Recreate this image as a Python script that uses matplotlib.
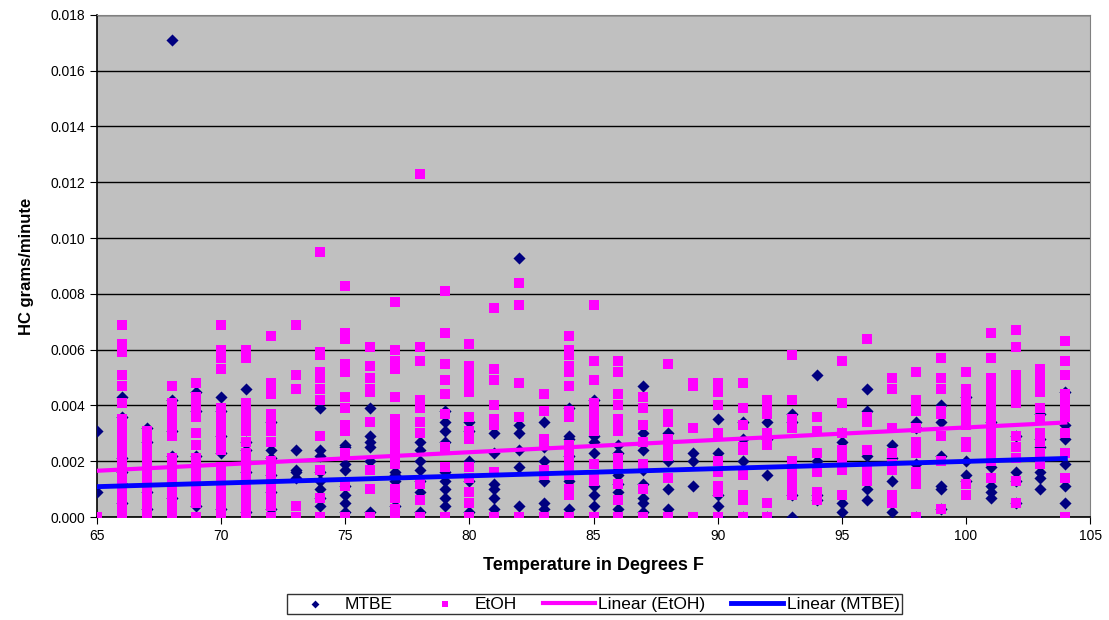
import matplotlib
matplotlib.use("Agg")
import matplotlib.pyplot as plt
from matplotlib.ticker import FormatStrFormatter, MultipleLocator

plt.rcParams["font.family"] = ["Liberation Sans", "DejaVu Sans"]

# Temperatures (deg F), one column of points per temperature
temps = list(range(65, 105))

# HC grams/minute, one list per temperature
mtbe_values = [
    [0.0031, 0.0009],
    [0.0043, 0.0036, 0.0021, 0.0016, 0.0012, 0.0005],
    [0.0032, 0.0027, 0.0018, 0.0009, 0.0003],
    [0.0171, 0.0042, 0.0031, 0.0022, 0.0007],
    [0.0045, 0.0038, 0.0022, 0.0004],
    [0.0043, 0.0038, 0.0029, 0.0023, 0.0003],
    [0.0046, 0.0027, 0.0024, 0.0016, 0.0002],
    [0.0034, 0.0024, 0.0021, 0.0015, 0.0009, 0.0003],
    [0.0024, 0.0017, 0.0016, 0.0014],
    [0.0039, 0.0024, 0.0022, 0.0016, 0.0013, 0.0010, 0.0007, 0.0004],
    [0.0026, 0.0025, 0.0019, 0.0017, 0.0011, 0.0008, 0.0005, 0.0002],
    [0.0039, 0.0029, 0.0027, 0.0025, 0.0020, 0.0002],
    [0.0016, 0.0015, 0.0013, 0.0004],
    [0.0027, 0.0024, 0.0020, 0.0017, 0.0013, 0.0009, 0.0002],
    [0.0038, 0.0034, 0.0031, 0.0027, 0.0016, 0.0013, 0.0010, 0.0007, 0.0004],
    [0.0034, 0.0031, 0.0020, 0.0013, 0.0002],
    [0.0030, 0.0023, 0.0012, 0.0010, 0.0007, 0.0003],
    [0.0093, 0.0033, 0.0030, 0.0024, 0.0018, 0.0004],
    [0.0034, 0.0025, 0.0020, 0.0013, 0.0005, 0.0003],
    [0.0039, 0.0029, 0.0028, 0.0022, 0.0013, 0.0003],
    [0.0042, 0.0029, 0.0027, 0.0023, 0.0011, 0.0008, 0.0004],
    [0.0026, 0.0023, 0.0017, 0.0015, 0.0012, 0.0009, 0.0003],
    [0.0047, 0.0030, 0.0024, 0.0017, 0.0012, 0.0007, 0.0005, 0.0002],
    [0.0030, 0.0020, 0.0010, 0.0003],
    [0.0023, 0.0020, 0.0011],
    [0.0035, 0.0023, 0.0008, 0.0004, 0.0],
    [0.0034, 0.0028, 0.0020, 0.0],
    [0.0034, 0.0028, 0.0015, 0.0],
    [0.0037, 0.0034, 0.0008, 0.0],
    [0.0051, 0.0020, 0.0008, 0.0006],
    [0.0030, 0.0027, 0.0005, 0.0002],
    [0.0046, 0.0038, 0.0022, 0.0010, 0.0006],
    [0.0026, 0.0021, 0.0013, 0.0002],
    [0.0034, 0.0032, 0.0019, 0.0],
    [0.0040, 0.0034, 0.0022, 0.0011, 0.0010, 0.0003],
    [0.0043, 0.0020, 0.0015, 0.0013],
    [0.0034, 0.0018, 0.0011, 0.0009, 0.0007],
    [0.0029, 0.0016, 0.0013, 0.0005],
    [0.0037, 0.0028, 0.0025, 0.0016, 0.0014, 0.0010],
    [0.0045, 0.0033, 0.0028, 0.0019, 0.0011, 0.0005],
]

etoh_values = [
    [0.0],
    [0.0069, 0.0062, 0.0059, 0.0051, 0.0047, 0.0041, 0.0035, 0.0033, 0.0031,
     0.0029, 0.0027, 0.0025, 0.0023, 0.0021, 0.0019, 0.0017, 0.0015, 0.0013,
     0.0011, 0.0009, 0.0007, 0.0005, 0.0003, 0.0001, 0.0],
    [0.0031, 0.0029, 0.0027, 0.0024, 0.0022, 0.0020, 0.0018, 0.0016, 0.0014,
     0.0012, 0.0010, 0.0008, 0.0006, 0.0004, 0.0002, 0.0],
    [0.0047, 0.0041, 0.0039, 0.0037, 0.0035, 0.0033, 0.0031, 0.0029, 0.0021,
     0.0019, 0.0017, 0.0015, 0.0013, 0.0011, 0.0009, 0.0007, 0.0005, 0.0003,
     0.0001, 0.0],
    [0.0048, 0.0043, 0.0040, 0.0038, 0.0036, 0.0030, 0.0026, 0.0021, 0.0019,
     0.0017, 0.0015, 0.0013, 0.0011, 0.0009, 0.0007, 0.0005, 0.0],
    [0.0069, 0.0060, 0.0057, 0.0053, 0.0039, 0.0037, 0.0035, 0.0033, 0.0030,
     0.0028, 0.0026, 0.0024, 0.0018, 0.0016, 0.0014, 0.0012, 0.0010, 0.0008,
     0.0006, 0.0004, 0.0002, 0.0],
    [0.0060, 0.0057, 0.0041, 0.0039, 0.0037, 0.0035, 0.0033, 0.0031, 0.0027,
     0.0023, 0.0021, 0.0019, 0.0017, 0.0015, 0.0013, 0.0011, 0.0009, 0.0007,
     0.0005, 0.0003, 0.0001, 0.0],
    [0.0065, 0.0048, 0.0046, 0.0044, 0.0037, 0.0035, 0.0033, 0.0031, 0.0027,
     0.0020, 0.0018, 0.0016, 0.0014, 0.0012, 0.0010, 0.0008, 0.0006, 0.0004,
     0.0],
    [0.0069, 0.0051, 0.0046, 0.0004, 0.0],
    [0.0095, 0.0059, 0.0058, 0.0052, 0.0050, 0.0046, 0.0042, 0.0029, 0.0017,
     0.0007, 0.0],
    [0.0083, 0.0066, 0.0064, 0.0055, 0.0052, 0.0043, 0.0039, 0.0033, 0.0031,
     0.0023, 0.0011, 0.0],
    [0.0061, 0.0054, 0.0050, 0.0046, 0.0045, 0.0034, 0.0017, 0.0010, 0.0],
    [0.0077, 0.0060, 0.0056, 0.0053, 0.0043, 0.0035, 0.0033, 0.0031, 0.0029,
     0.0027, 0.0025, 0.0023, 0.0021, 0.0019, 0.0010, 0.0007, 0.0003, 0.0],
    [0.0123, 0.0061, 0.0056, 0.0042, 0.0039, 0.0034, 0.0030, 0.0012, 0.0006,
     0.0],
    [0.0081, 0.0066, 0.0055, 0.0049, 0.0044, 0.0037, 0.0025, 0.0018, 0.0],
    [0.0062, 0.0054, 0.0051, 0.0048, 0.0045, 0.0036, 0.0031, 0.0028, 0.0018,
     0.0014, 0.0009, 0.0005, 0.0],
    [0.0075, 0.0053, 0.0049, 0.0040, 0.0035, 0.0033, 0.0016, 0.0],
    [0.0084, 0.0076, 0.0048, 0.0036, 0.0],
    [0.0044, 0.0038, 0.0028, 0.0026, 0.0017, 0.0015, 0.0],
    [0.0065, 0.0060, 0.0058, 0.0054, 0.0052, 0.0047, 0.0038, 0.0036, 0.0026,
     0.0024, 0.0022, 0.0020, 0.0018, 0.0015, 0.0010, 0.0008, 0.0],
    [0.0076, 0.0056, 0.0049, 0.0041, 0.0039, 0.0037, 0.0035, 0.0033, 0.0031,
     0.0019, 0.0015, 0.0013, 0.0],
    [0.0056, 0.0052, 0.0044, 0.0040, 0.0035, 0.0033, 0.0031, 0.0021, 0.0019,
     0.0012, 0.0006, 0.0],
    [0.0043, 0.0039, 0.0033, 0.0027, 0.0019, 0.0010, 0.0],
    [0.0055, 0.0037, 0.0034, 0.0028, 0.0026, 0.0024, 0.0022, 0.0014, 0.0],
    [0.0048, 0.0047, 0.0032, 0.0],
    [0.0048, 0.0045, 0.0040, 0.0030, 0.0020, 0.0016, 0.0011, 0.0009, 0.0],
    [0.0048, 0.0039, 0.0033, 0.0025, 0.0024, 0.0015, 0.0008, 0.0006, 0.0],
    [0.0042, 0.0040, 0.0037, 0.0030, 0.0028, 0.0026, 0.0005, 0.0],
    [0.0058, 0.0042, 0.0035, 0.0032, 0.0020, 0.0018, 0.0016, 0.0014, 0.0012,
     0.0010, 0.0008],
    [0.0036, 0.0031, 0.0023, 0.0016, 0.0009, 0.0006],
    [0.0056, 0.0041, 0.0030, 0.0024, 0.0021, 0.0017, 0.0008],
    [0.0064, 0.0036, 0.0034, 0.0024, 0.0018, 0.0015, 0.0013],
    [0.0050, 0.0046, 0.0032, 0.0023, 0.0019, 0.0017, 0.0008, 0.0005],
    [0.0052, 0.0042, 0.0040, 0.0038, 0.0032, 0.0027, 0.0025, 0.0023, 0.0016,
     0.0014, 0.0012, 0.0],
    [0.0057, 0.0050, 0.0046, 0.0038, 0.0037, 0.0029, 0.0020, 0.0003],
    [0.0052, 0.0046, 0.0043, 0.0041, 0.0039, 0.0037, 0.0035, 0.0033, 0.0027,
     0.0025, 0.0012, 0.0008],
    [0.0066, 0.0057, 0.0050, 0.0047, 0.0044, 0.0042, 0.0040, 0.0038, 0.0036,
     0.0034, 0.0032, 0.0030, 0.0028, 0.0026, 0.0024, 0.0022, 0.0020, 0.0014],
    [0.0067, 0.0061, 0.0051, 0.0049, 0.0047, 0.0045, 0.0043, 0.0041, 0.0029,
     0.0025, 0.0021, 0.0013, 0.0005],
    [0.0053, 0.0050, 0.0047, 0.0045, 0.0039, 0.0035, 0.0030, 0.0027, 0.0023,
     0.0019],
    [0.0063, 0.0056, 0.0051, 0.0044, 0.0042, 0.0040, 0.0038, 0.0036, 0.0030,
     0.0023, 0.0014, 0.0],
]

# Excel linear trendlines, values read at the first and last temperature
trend_temps = [65, 104]
etoh_trend = [0.00166, 0.00339]
mtbe_trend = [0.00109, 0.00210]


def flatten(values):
    xs, ys = [], []
    for t, col in zip(temps, values):
        for v in col:
            xs.append(t)
            ys.append(v)
    return xs, ys


mtbe_x, mtbe_y = flatten(mtbe_values)
etoh_x, etoh_y = flatten(etoh_values)

fig = plt.figure(figsize=(11.09, 6.2), dpi=100)
ax = fig.add_axes([0.0875, 0.166, 0.8955, 0.810])
ax.set_facecolor("#C0C0C0")

ax.scatter(mtbe_x, mtbe_y, marker="D", s=38, color="#000080", linewidths=0,
           zorder=3, label="MTBE")
ax.scatter(etoh_x, etoh_y, marker="s", s=55, color="#FF00FF", linewidths=0,
           zorder=4, label="EtOH")
ax.plot(trend_temps, etoh_trend, color="#FF00FF", lw=3, zorder=5,
        label="Linear (EtOH)")
ax.plot(trend_temps, mtbe_trend, color="#0000FF", lw=3.5, zorder=5,
        label="Linear (MTBE)")

ax.set_xlim(65, 105)
ax.set_ylim(0, 0.018)
ax.xaxis.set_major_locator(MultipleLocator(5))
ax.yaxis.set_major_locator(MultipleLocator(0.002))
ax.yaxis.set_major_formatter(FormatStrFormatter("%.3f"))
ax.grid(axis="y", color="black", lw=1, zorder=1)
ax.set_axisbelow(True)
ax.tick_params(direction="out", length=5, color="black", labelsize=10)
for name in ["left", "bottom"]:
    ax.spines[name].set_linewidth(1.2)
ax.spines["right"].set_color("#808080")
ax.spines["top"].set_color("#808080")

ax.set_xlabel("Temperature in Degrees F", fontsize=13, fontweight="bold",
              labelpad=10)
ax.set_ylabel("HC grams/minute", fontsize=12, fontweight="bold", labelpad=12)

leg = fig.legend(loc="upper center", bbox_to_anchor=(0.536, 0.056), ncol=4,
                 frameon=True, fancybox=False, edgecolor="black",
                 fontsize=12.5, handlelength=3.0, handletextpad=0.2,
                 columnspacing=1.5, borderpad=0.15, markerscale=0.65)
leg.get_frame().set_linewidth(1.0)

fig.savefig("out.png", dpi=100)
